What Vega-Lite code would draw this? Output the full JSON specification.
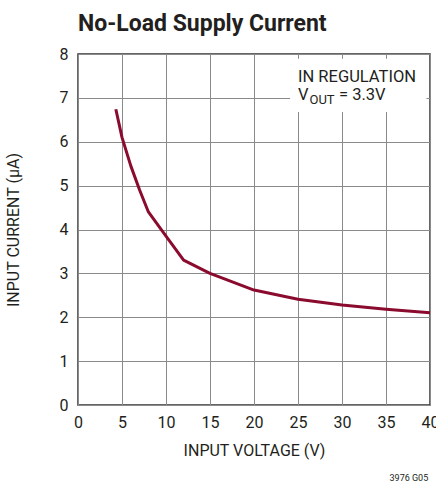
{
  "$schema": "https://vega.github.io/schema/vega-lite/v6.json",
  "width": 352,
  "height": 351,
  "autosize": "none",
  "padding": {"left": 78, "top": 54, "right": 6, "bottom": 84},
  "background": "white",
  "config": {
    "view": {"stroke": "#333333", "strokeWidth": 1.5},
    "font": "Roboto",
    "axis": {
      "grid": true,
      "gridColor": "#8a8a8a",
      "gridWidth": 1,
      "domain": false,
      "ticks": false,
      "labelFont": "Roboto",
      "labelFontSize": 16,
      "labelColor": "#231f20",
      "labelFlush": false,
      "labelOverlap": false,
      "titleFont": "Roboto",
      "titleFontSize": 16,
      "titleFontWeight": "normal",
      "titleColor": "#231f20"
    }
  },
  "layer": [
    {
      "data": {"values": [
        {"vin": 4.3, "iin": 6.74},
        {"vin": 5, "iin": 6.1},
        {"vin": 6, "iin": 5.45},
        {"vin": 7, "iin": 4.9},
        {"vin": 8, "iin": 4.4},
        {"vin": 10, "iin": 3.85},
        {"vin": 12, "iin": 3.3},
        {"vin": 15, "iin": 3.0},
        {"vin": 20, "iin": 2.62},
        {"vin": 25, "iin": 2.41},
        {"vin": 30, "iin": 2.28},
        {"vin": 35, "iin": 2.18},
        {"vin": 40, "iin": 2.1}
      ]},
      "mark": {"type": "line", "color": "#8a0b2e", "strokeWidth": 3, "strokeJoin": "round"},
      "encoding": {
        "x": {"field": "vin", "type": "quantitative", "title": "INPUT VOLTAGE (V)",
              "scale": {"domain": [0, 40], "nice": false},
              "axis": {"values": [0, 5, 10, 15, 20, 25, 30, 35, 40], "labelPadding": 9, "titlePadding": 12}},
        "y": {"field": "iin", "type": "quantitative", "title": "INPUT CURRENT (μA)",
              "scale": {"domain": [0, 8], "nice": false},
              "axis": {"values": [0, 1, 2, 3, 4, 5, 6, 7, 8], "labelPadding": 10, "titlePadding": 38}}
      }
    },
    {
      "data": {"values": [{"x1": 24.1, "x2": 39.6, "y1": 7.89, "y2": 6.68}]},
      "mark": {"type": "rect", "fill": "white"},
      "encoding": {
        "x": {"field": "x1", "type": "quantitative", "title": "INPUT VOLTAGE (V)"},
        "x2": {"field": "x2"},
        "y": {"field": "y1", "type": "quantitative", "title": "INPUT CURRENT (μA)"},
        "y2": {"field": "y2"}
      }
    },
    {
      "data": {"values": [
        {"x": 25, "y": 7.37, "label": "IN REGULATION"},
        {"x": 25, "y": 6.95, "label": "V"},
        {"x": 29.66, "y": 6.95, "label": "= 3.3V"}
      ]},
      "mark": {"type": "text", "align": "left", "baseline": "alphabetic", "fontSize": 16.5, "font": "Roboto", "color": "#231f20"},
      "encoding": {
        "x": {"field": "x", "type": "quantitative", "title": "INPUT VOLTAGE (V)"},
        "y": {"field": "y", "type": "quantitative", "title": "INPUT CURRENT (μA)"},
        "text": {"field": "label"}
      }
    },
    {
      "data": {"values": [{"x": 26.3, "y": 6.86, "label": "OUT"}]},
      "mark": {"type": "text", "align": "left", "baseline": "alphabetic", "fontSize": 13, "font": "Roboto", "color": "#231f20"},
      "encoding": {
        "x": {"field": "x", "type": "quantitative", "title": "INPUT VOLTAGE (V)"},
        "y": {"field": "y", "type": "quantitative", "title": "INPUT CURRENT (μA)"},
        "text": {"field": "label"}
      }
    },
    {
      "data": {"values": [{"x": 0, "y": 8.52, "label": "No-Load Supply Current"}]},
      "mark": {"type": "text", "align": "left", "baseline": "alphabetic", "fontSize": 23, "fontWeight": "bold", "font": "Roboto", "color": "#231f20"},
      "encoding": {
        "x": {"field": "x", "type": "quantitative", "title": "INPUT VOLTAGE (V)"},
        "y": {"field": "y", "type": "quantitative", "title": "INPUT CURRENT (μA)"},
        "text": {"field": "label"}
      }
    },
    {
      "data": {"values": [{"x": 39.8, "y": -1.73, "label": "3976 G05"}]},
      "mark": {"type": "text", "align": "right", "baseline": "alphabetic", "fontSize": 9, "font": "Roboto", "color": "#231f20"},
      "encoding": {
        "x": {"field": "x", "type": "quantitative", "title": "INPUT VOLTAGE (V)"},
        "y": {"field": "y", "type": "quantitative", "title": "INPUT CURRENT (μA)"},
        "text": {"field": "label"}
      }
    }
  ]
}
